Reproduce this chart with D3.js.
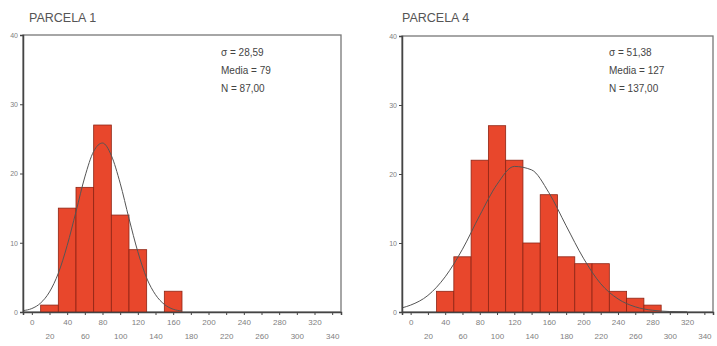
<!DOCTYPE html>
<html>
<head>
<meta charset="utf-8">
<script src="https://cdn.jsdelivr.net/npm/d3@7"></script>
<style>
  body { margin: 0; background: #fff; }
  svg { display: block; font-family: "Liberation Sans", Arial, sans-serif; }
  .axis path, .axis line { stroke: #444; }
  .axis text { fill: #808080; }
</style>
</head>
<body>
<svg id="chart" width="717" height="346"></svg>
<script>
// bins (lower edges, width 20) and counts
var bins1 = [10, 30, 50, 70, 90, 110, 130, 150];
var counts1 = [1, 15, 18, 27, 14, 9, 0, 3];
var bins4 = [30, 50, 70, 90, 110, 130, 150, 170, 190, 210, 230, 250, 270];
var counts4 = [3, 8, 22, 27, 22, 10, 17, 8, 7, 7, 3, 2, 1];

// normal curve
var curveX1 = [-10, 0, 10, 20, 30, 40, 50, 60, 70, 80, 90, 100, 110, 120, 130, 140, 150, 160, 170];
var curveY1 = [0.2, 0.5, 1.3, 2.9, 5.6, 9.6, 14.5, 19.5, 23.2, 24.4, 22.6, 18.6, 13.5, 8.7, 4.9, 2.5, 1.1, 0.4, 0.15];
var curveX4 = [-10, 0, 20, 40, 60, 80, 100, 120, 140, 160, 180, 200, 220, 240, 260, 280, 300, 320];
var curveY4 = [0.6, 1.0, 2.4, 5.1, 9.1, 14.0, 18.5, 21.1, 20.6, 17.3, 12.5, 7.8, 4.1, 1.9, 0.75, 0.25, 0.07, 0.02];

var xTicks = [0, 20, 40, 60, 80, 100, 120, 140, 160, 180, 200, 220, 240, 260, 280, 300, 320, 340];
var yTicks = [0, 10, 20, 30, 40];
var titles = ["PARCELA 1", "PARCELA 4"];
var stats1 = ["\u03c3 = 28,59", "Media = 79", "N = 87,00"];
var stats4 = ["\u03c3 = 51,38", "Media = 127", "N = 137,00"];

var svg = d3.select("#chart");

function histo(opt) {
  var x = d3.scaleLinear().domain([-10, 350]).range([opt.left, opt.right]);
  var y = d3.scaleLinear().domain([0, 40]).range([opt.bottom, opt.top]);
  var g = svg.append("g");

  // title
  g.append("text").attr("x", opt.titleX).attr("y", 22)
    .attr("font-size", 12.5).attr("fill", "#555").text(opt.title);

  // frame
  g.append("rect").attr("x", opt.left).attr("y", opt.top)
    .attr("width", opt.right - opt.left).attr("height", opt.bottom - opt.top)
    .attr("fill", "none").attr("stroke", "#777").attr("stroke-width", 1.3);

  // bars
  var bars = opt.bins.map(function (b, i) { return { x0: b, x1: b + 20, n: opt.counts[i] }; })
    .filter(function (d) { return d.n > 0; });
  g.selectAll("rect.bar").data(bars).enter().append("rect")
    .attr("class", "bar")
    .attr("x", function (d) { return x(d.x0); })
    .attr("width", function (d) { return x(d.x1) - x(d.x0); })
    .attr("y", function (d) { return y(d.n); })
    .attr("height", function (d) { return y(0) - y(d.n); })
    .attr("fill", "#e8472c").attr("stroke", "#8e2414").attr("stroke-width", 0.8);

  // normal curve
  var pts = opt.cx.map(function (v, i) { return [v, opt.cy[i]]; });
  g.append("path").datum(pts)
    .attr("d", d3.line().x(function (d) { return x(d[0]); }).y(function (d) { return y(d[1]); }).curve(d3.curveMonotoneX))
    .attr("fill", "none").attr("stroke", "#555").attr("stroke-width", 1);

  // axes
  var ya = g.append("g").attr("class", "axis").attr("transform", "translate(" + opt.left + ",0)")
    .call(d3.axisLeft(y).tickValues(yTicks).tickSize(3).tickPadding(2));
  ya.selectAll("text").attr("font-size", 7);
  ya.select("path").attr("stroke-width", 1.5);

  var xa = g.append("g").attr("class", "axis").attr("transform", "translate(0," + opt.bottom + ")")
    .call(d3.axisBottom(x).tickValues(xTicks).tickSize(3).tickPadding(4));
  xa.select("path").attr("stroke-width", 1.5);
  xa.selectAll("text").attr("font-size", 8)
    .attr("dy", function (d, i) { return i % 2 ? "2.45em" : "0.71em"; });

  // stats
  g.selectAll("text.stat").data(opt.stats).enter().append("text")
    .attr("class", "stat")
    .attr("x", opt.statX)
    .attr("y", function (d, i) { return 56 + i * 18; })
    .attr("font-size", 10).attr("fill", "#444").text(function (d) { return d; });
}

histo({ left: 23, right: 341, top: 35, bottom: 312, title: titles[0], titleX: 29, bins: bins1, counts: counts1,
  cx: curveX1, cy: curveY1, stats: stats1, statX: 221 });
histo({ left: 402, right: 713, top: 36, bottom: 312, title: titles[1], titleX: 402, bins: bins4, counts: counts4,
  cx: curveX4, cy: curveY4, stats: stats4, statX: 609 });
</script>
</body>
</html>
